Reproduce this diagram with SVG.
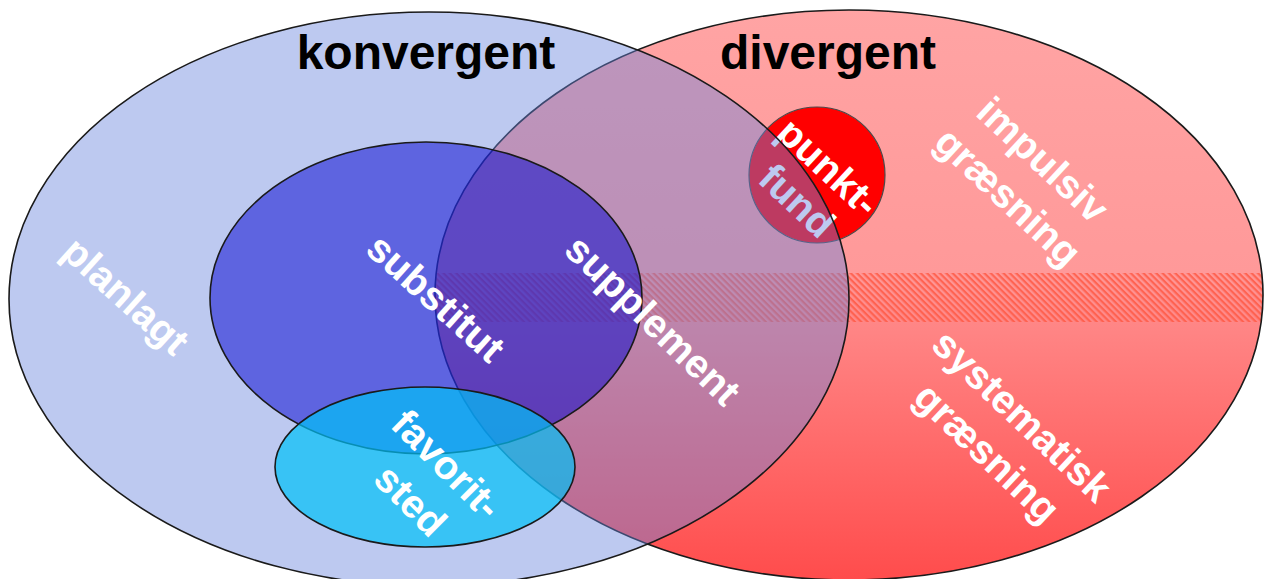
<svg xmlns="http://www.w3.org/2000/svg" width="1265" height="579" viewBox="0 0 1265 579">
  <style>
    .outline { stroke: #1a1a1a; stroke-width: 1.6; }
    .title { font-family: "Liberation Sans", Arial, sans-serif; font-weight: bold; font-size: 48px; fill: #000; text-anchor: middle; }
    .lbl { font-family: "Liberation Sans", Arial, sans-serif; font-weight: bold; font-size: 40px; fill: #fff; text-anchor: middle; }
  </style>
  <defs>
    <linearGradient id="pinkGrad" gradientUnits="userSpaceOnUse" x1="0" y1="10" x2="0" y2="580">
      <stop offset="0" stop-color="#ffa4a4"/>
      <stop offset="0.46" stop-color="#ff9999"/>
      <stop offset="0.55" stop-color="#ff8686"/>
      <stop offset="1" stop-color="#ff4c4c"/>
    </linearGradient>
    <pattern id="hatch" patternUnits="userSpaceOnUse" width="4.5" height="4.5" patternTransform="rotate(45)">
      <rect x="0" y="0" width="4.5" height="2.2" fill="#ff5a46" fill-opacity="0.85"/>
    </pattern>
    <clipPath id="divClip">
      <ellipse cx="849" cy="295" rx="414" ry="285"/>
    </clipPath>
  </defs>

  <g id="divergent">
    <ellipse cx="849" cy="295" rx="414" ry="285" fill="url(#pinkGrad)"/>
    <rect x="430" y="273" width="840" height="49" fill="url(#hatch)" clip-path="url(#divClip)"/>
    <ellipse cx="849" cy="295" rx="414" ry="285" fill="none" class="outline"/>
    <text class="title" x="828" y="69">divergent</text>
  </g>

  <g id="impulsiv-graesning" transform="translate(1024,180) rotate(43)">
    <text class="lbl" x="0" y="-14">impulsiv</text>
    <text class="lbl" x="0" y="37">græsning</text>
  </g>

  <g id="systematisk-graesning" transform="translate(1003,436) rotate(43.5)">
    <text class="lbl" x="0" y="-14">systematisk</text>
    <text class="lbl" x="0" y="37">græsning</text>
  </g>

  <g id="punkt-fund">
    <circle cx="817" cy="175" r="68" fill="#ff0000" stroke="#4a4a4a" stroke-width="1.2"/>
    <g transform="translate(811,186) rotate(43)">
      <text class="lbl" x="0" y="-12">punkt-</text>
      <text class="lbl" x="0" y="34">fund</text>
    </g>
  </g>

  <g id="konvergent">
    <ellipse cx="429" cy="299" rx="420" ry="287" fill="rgb(104,131,221)" fill-opacity="0.44" class="outline"/>
    <text class="title" x="426" y="69">konvergent</text>
  </g>

  <g id="planlagt" transform="translate(124,298) rotate(42)">
    <text class="lbl" x="0" y="11">planlagt</text>
  </g>

  <g id="substitut">
    <ellipse cx="426" cy="298" rx="216" ry="156" fill="#0000d0" fill-opacity="0.5" class="outline"/>
    <g transform="translate(434,300) rotate(42)">
      <text class="lbl" x="0" y="11">substitut</text>
    </g>
  </g>

  <g id="supplement" transform="translate(651,322) rotate(44)">
    <text class="lbl" x="0" y="11">supplement</text>
  </g>

  <g id="favoritsted">
    <ellipse cx="425" cy="467" rx="150" ry="80" fill="rgb(0,193,247)" fill-opacity="0.7" class="outline"/>
    <g transform="translate(427,484) rotate(45)">
      <text class="lbl" x="0" y="-14">favorit-</text>
      <text class="lbl" x="0" y="37">sted</text>
    </g>
  </g>
</svg>
